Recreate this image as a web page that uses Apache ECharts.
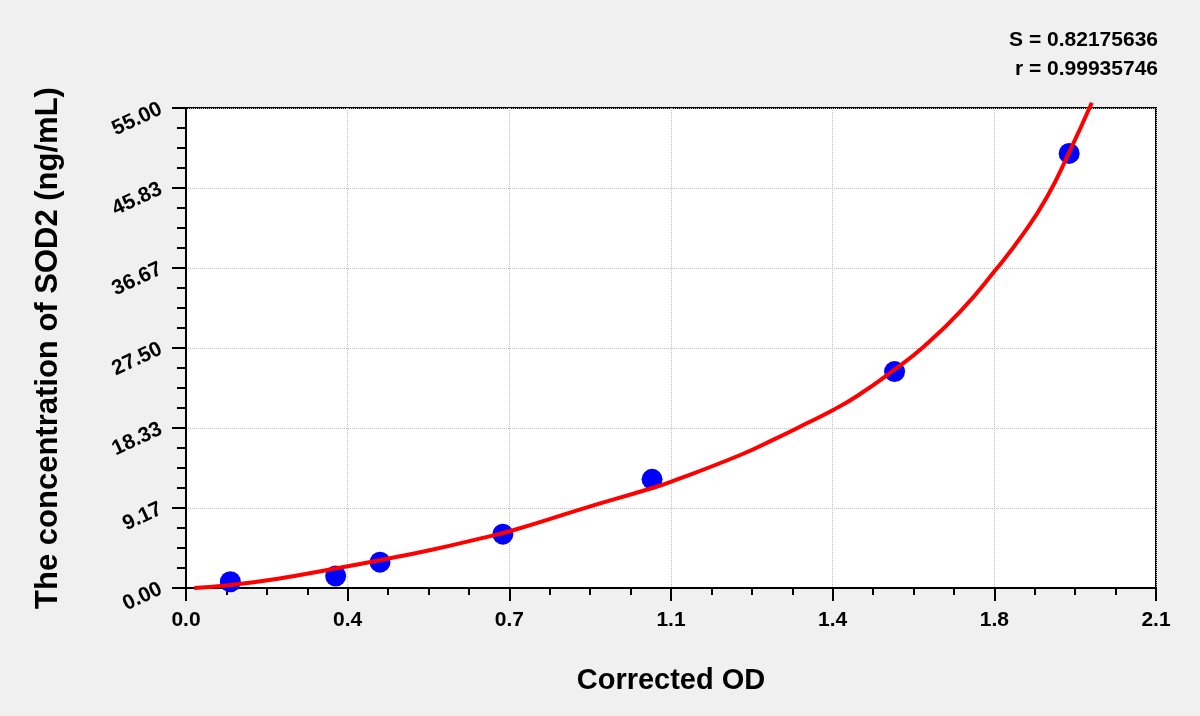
<!DOCTYPE html>
<html>
<head>
<meta charset="utf-8">
<script src="https://cdn.jsdelivr.net/npm/echarts@6/dist/echarts.min.js"></script>
<style>
  html, body { margin: 0; padding: 0; background: #f0f0f0; }
  #chart { width: 1200px; height: 716px; }
</style>
</head>
<body>
<div id="chart"></div>
<script>
// Standard points (Corrected OD, concentration)
const pointX = [0.096, 0.324, 0.420, 0.686, 1.009, 1.534, 1.912];
const pointY = [0.72, 1.37, 2.96, 6.17, 12.45, 24.8, 49.8];

// Fitted curve
const curveX = [0.018, 0.097, 0.205, 0.314, 0.422, 0.530, 0.638, 0.710, 0.861, 1.006, 1.051, 1.200, 1.272, 1.344, 1.401, 1.453, 1.532, 1.597, 1.676, 1.752, 1.813, 1.864, 1.911, 1.961];
const curveY = [0.0, 0.34, 1.11, 2.14, 3.21, 4.35, 5.69, 6.65, 9.13, 11.4, 12.2, 15.24, 17.0, 18.87, 20.4, 22.0, 24.95, 27.65, 31.66, 36.4, 40.6, 44.8, 49.8, 55.6];

// Tick labels
const xTickLabels = ['0.0', '0.4', '0.7', '1.1', '1.4', '1.8', '2.1'];
const yTickLabels = ['0.00', '9.17', '18.33', '27.50', '36.67', '45.83', '55.00'];

const stats = ['S = 0.82175636', 'r = 0.99935746'];
const xTitle = 'Corrected OD';
const yTitle = 'The concentration of SOD2 (ng/mL)';

const FONT = '"Liberation Sans", Arial, sans-serif';
const xStep = 0.35;
const yStep = 55 / 6;

const chart = echarts.init(document.getElementById('chart'));
chart.setOption({
  backgroundColor: '#f0f0f0',
  animation: false,
  textStyle: { fontFamily: FONT },
  grid: {
    left: 186, right: 44, top: 108, bottom: 128,
    show: true, backgroundColor: '#ffffff', borderColor: '#000000', borderWidth: 2
  },
  xAxis: {
    type: 'value', min: 0, max: 2.1, interval: xStep,
    name: xTitle, nameLocation: 'middle', nameGap: 78,
    nameTextStyle: { fontFamily: FONT, fontWeight: 'bold', fontSize: 29, color: '#000' },
    axisLine: { show: true, onZero: false, lineStyle: { color: '#000', width: 2 } },
    axisTick: { show: true, inside: false, length: 13, lineStyle: { color: '#000', width: 2 } },
    minorTick: { show: true, splitNumber: 4, length: 7, lineStyle: { color: '#000', width: 2 } },
    axisLabel: {
      margin: 22, fontFamily: FONT, fontWeight: 'bold', fontSize: 21, color: '#000',
      formatter: v => xTickLabels[Math.round(v / xStep)] ?? ''
    },
    splitLine: { show: true, lineStyle: { color: '#bdbdbd', type: 'dotted', width: 1 } }
  },
  yAxis: {
    type: 'value', min: 0, max: 55, interval: yStep,
    name: yTitle, nameLocation: 'middle', nameGap: 122, nameRotate: 90,
    nameTextStyle: { fontFamily: FONT, fontWeight: 'bold', fontSize: 31, color: '#000' },
    axisLine: { show: true, onZero: false, lineStyle: { color: '#000', width: 2 } },
    axisTick: { show: true, inside: false, length: 14, lineStyle: { color: '#000', width: 2 } },
    minorTick: { show: true, splitNumber: 4, length: 9, lineStyle: { color: '#000', width: 2 } },
    axisLabel: {
      margin: 25, rotate: 25, fontFamily: FONT, fontWeight: 'bold', fontSize: 21, color: '#000',
      formatter: v => yTickLabels[Math.round(v / yStep)] ?? ''
    },
    splitLine: { show: true, lineStyle: { color: '#bdbdbd', type: 'dotted', width: 1 } }
  },
  graphic: [
    { type: 'text', x: 1158, y: 40, z: 100,
      style: { text: stats[0], align: 'right', verticalAlign: 'middle', font: 'bold 21px ' + FONT, fill: '#000' } },
    { type: 'text', x: 1158, y: 69, z: 100,
      style: { text: stats[1], align: 'right', verticalAlign: 'middle', font: 'bold 21px ' + FONT, fill: '#000' } }
  ],
  series: [
    {
      type: 'scatter',
      data: pointX.map((x, i) => [x, pointY[i]]),
      symbol: 'circle', symbolSize: 21,
      itemStyle: { color: '#0000ff', opacity: 1 },
      z: 2
    },
    {
      type: 'line',
      data: curveX.map((x, i) => [x, curveY[i]]),
      smooth: true, showSymbol: false, clip: false,
      lineStyle: { color: '#ff0000', width: 4 },
      z: 3
    }
  ]
});
</script>
</body>
</html>
